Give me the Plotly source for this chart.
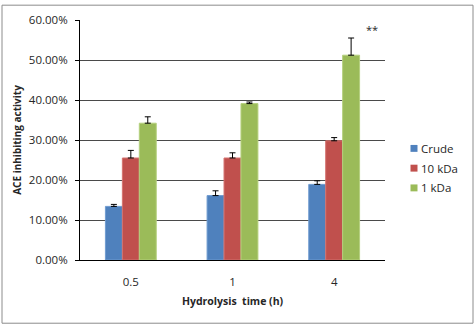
import plotly.graph_objects as go

categories = ["0.5", "1", "4"]
series_names = ["Crude", "10 kDa", "1 kDa"]
crude = [0.134, 0.161, 0.189]
kda10 = [0.255, 0.255, 0.298]
kda1 = [0.342, 0.391, 0.512]
crude_err = [0.005, 0.012, 0.009]
kda10_err = [0.019, 0.013, 0.008]
kda1_err = [0.016, 0.004, 0.043]
colors = ["#4F81BD", "#C0504D", "#9BBB59"]
edge_colors = ["#6F9BD0", "#D47370", "#B5D07E"]
y_ticks = [0, 0.1, 0.2, 0.3, 0.4, 0.5, 0.6]

FONT = "Open Sans"
TXT = "#262626"

# plot-area geometry (pixels) used to place the manual legend / frame
L, R, T, B = 80, 385, 17, 260
W, H = R - L, B - T


def px(x):
    return (x - L) / W


def py(y):
    return (B - y) / H


fig = go.Figure()
for name, vals, errs, c, ec in zip(series_names, [crude, kda10, kda1],
                                   [crude_err, kda10_err, kda1_err], colors, edge_colors):
    fig.add_trace(go.Bar(
        x=categories, y=vals, name=name,
        marker=dict(color=c, line=dict(color=ec, width=1)),
        error_y=dict(type="data", array=errs, arrayminus=[0] * len(errs), symmetric=False,
                     color="black", thickness=1, width=3),
    ))

fig.add_annotation(x=2.37, y=0.577, xref="x", yref="y", text="**", showarrow=False,
                   font=dict(size=11, color=TXT, family=FONT))

# legend drawn Excel-style: small square swatch + label
for i, (name, c) in enumerate(zip(series_names, colors)):
    yc = 147 + 20 * i
    fig.add_shape(type="rect", xref="paper", yref="paper",
                  x0=px(410.5), x1=px(417.5), y0=py(yc + 3.5), y1=py(yc - 3.5),
                  fillcolor=c, line=dict(width=0))
    fig.add_annotation(xref="paper", yref="paper", x=px(419), y=py(yc),
                       xanchor="left", yanchor="middle", text=name, showarrow=False,
                       font=dict(size=11.5, color=TXT, family=FONT))

# outer chart border
fig.add_shape(type="rect", xref="paper", yref="paper",
              x0=px(2), x1=px(473), y0=py(324), y1=py(2),
              line=dict(color="#8C8C8C", width=1), layer="below")

fig.update_layout(
    width=476, height=328,
    margin=dict(l=L, r=476 - R, t=T, b=328 - B),
    paper_bgcolor="white", plot_bgcolor="white",
    barmode="group", bargap=0.5, bargroupgap=0,
    font=dict(family=FONT, size=11.5, color=TXT),
    showlegend=False,
    xaxis=dict(type="category", showline=True, linecolor="black", linewidth=1,
               ticks="", tickfont=dict(size=11.5), ticklabelstandoff=11,
               title=dict(text="<b>Hydrolysis  time (h)</b>", font=dict(size=10.5), standoff=9)),
    yaxis=dict(range=[0, 0.6], tickvals=y_ticks, tickformat=".2%",
               showline=True, linecolor="black", linewidth=1,
               ticks="outside", ticklen=4, tickcolor="black", ticklabelstandoff=5,
               showgrid=True, gridcolor="#4A4A4A", gridwidth=1,
               zeroline=False, tickfont=dict(size=11.5),
               title=dict(text="<b>ACE inhibiting activity</b>", font=dict(size=10), standoff=5)),
)

fig.write_html("out.html")
